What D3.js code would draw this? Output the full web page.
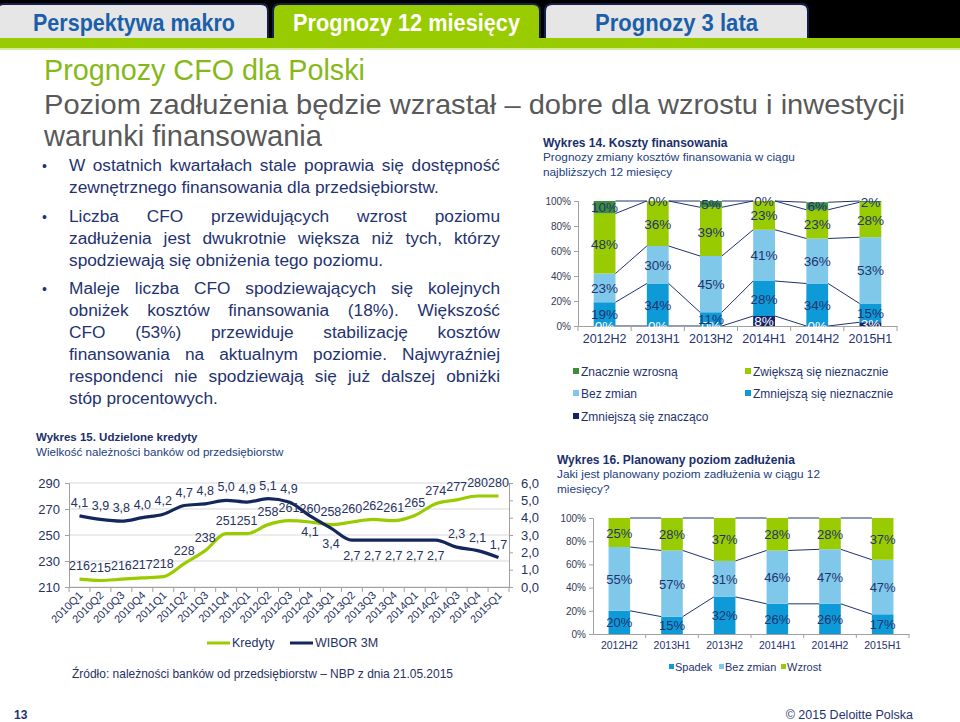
<!DOCTYPE html>
<html><head><meta charset="utf-8">
<script src="https://cdn.jsdelivr.net/npm/d3@7"></script>
<style>
body{margin:0;background:#fff;}
svg{display:block;font-family:Arial,"Liberation Sans",sans-serif;}
</style></head><body>
<svg id="s" width="960" height="722"></svg>
<script>
// ---------------- DATA ----------------
const tabLabels = ["Perspektywa makro", "Prognozy 12 miesięcy", "Prognozy 3 lata"];
const titleLines = ["Prognozy CFO dla Polski", "Poziom zadłużenia będzie wzrastał – dobre dla wzrostu i inwestycji", "warunki finansowania"];
const bulletParagraphs = [
  ["W ostatnich kwartałach stale poprawia się dostępność", "zewnętrznego finansowania dla przedsiębiorstw."],
  ["Liczba CFO przewidujących wzrost poziomu", "zadłużenia jest dwukrotnie większa niż tych, którzy", "spodziewają się obniżenia tego poziomu."],
  ["Maleje liczba CFO spodziewających się kolejnych", "obniżek kosztów finansowania (18%). Większość", "CFO (53%) przewiduje stabilizację kosztów", "finansowania na aktualnym poziomie. Najwyraźniej", "respondenci nie spodziewają się już dalszej obniżki", "stóp procentowych."]
];

// Wykres 14
const costPeriods = ["2012H2", "2013H1", "2013H2", "2014H1", "2014H2", "2015H1"];
const costSeriesNames = ["Zmniejszą się znacząco", "Zmniejszą się nieznacznie", "Bez zmian", "Zwiększą się nieznacznie", "Znacznie wzrosną"];
const costDecreaseStrong = [0, 0, 0, 8, 0, 3];
const costDecreaseSlight = [19, 34, 11, 28, 34, 15];
const costNoChange = [23, 30, 45, 41, 36, 53];
const costIncreaseSlight = [48, 36, 39, 23, 23, 28];
const costIncreaseStrong = [10, 0, 5, 0, 6, 2];
const pctTicks = [0, 20, 40, 60, 80, 100];

// Wykres 15
const quarters = ["2010Q1","2010Q2","2010Q3","2010Q4","2011Q1","2011Q2","2011Q3","2011Q4","2012Q1","2012Q2","2012Q3","2012Q4","2013Q1","2013Q2","2013Q3","2013Q4","2014Q1","2014Q2","2014Q3","2014Q4","2015Q1"];
const credits = [216, 215, 216, 217, 218, 228, 238, 251, 251, 258, 261, 260, 258, 260, 262, 261, 265, 274, 277, 280, 280];
const wibor = [4.1, 3.9, 3.8, 4.0, 4.2, 4.7, 4.8, 5.0, 4.9, 5.1, 4.9, 4.1, 3.4, 2.7, 2.7, 2.7, 2.7, 2.7, 2.3, 2.1, 1.7];
const creditTicks = [210, 230, 250, 270, 290];
const wiborTicks = [0, 1, 2, 3, 4, 5, 6];
const lineSeriesNames = ["Kredyty", "WIBOR 3M"];

// Wykres 16
const debtPeriods = ["2012H2", "2013H1", "2013H2", "2014H1", "2014H2", "2015H1"];
const debtSeriesNames = ["Spadek", "Bez zmian", "Wzrost"];
const debtDown = [20, 15, 32, 26, 26, 17];
const debtSame = [55, 57, 31, 46, 47, 47];
const debtUp = [25, 28, 37, 28, 28, 37];

// ---------------- STYLE ----------------
const NAVY = "#1f3370", NAVY2 = "#22407e", GREEN = "#99cc00", TABBLUE = "#1b5faa";
const narrow = '"Liberation Sans Narrow","Arial Narrow",Arial,sans-serif';
const svg = d3.select("#s");

// ---------------- HEADER ----------------
svg.append("rect").attr("x",0).attr("y",0).attr("width",960).attr("height",38).attr("fill","#000");
const tabBoxes = [[-3,268],[273,540],[545,808]];
const tabTextW = [202, 227, 163];
function tabPath(x0,x1,y0,y1,r){return `M${x0},${y1}L${x0},${y0+r}Q${x0},${y0} ${x0+r},${y0}L${x1-r},${y0}Q${x1},${y0} ${x1},${y0+r}L${x1},${y1}`;}
tabLabels.forEach((t,i)=>{
  const [a,b]=tabBoxes[i];
  svg.append("path").attr("d",tabPath(a,b,4,42,7)+"Z").attr("fill", i===1?GREEN:"#e6e6e6").attr("stroke","#13214a").attr("stroke-width",2);
});
svg.append("rect").attr("x",0).attr("y",38).attr("width",960).attr("height",10).attr("fill",GREEN);
svg.append("rect").attr("x",274).attr("y",30).attr("width",265).attr("height",10).attr("fill",GREEN);
svg.append("rect").attr("x",0).attr("y",48).attr("width",960).attr("height",2).attr("fill","#d4ea9a");
tabLabels.forEach((t,i)=>{
  const [a,b]=tabBoxes[i];
  svg.append("text").attr("x",(a+b)/2 + (i===0?1.5:0)).attr("y",31).attr("text-anchor","middle")
    .attr("font-family",narrow).attr("font-weight","bold").attr("font-size",24)
    .attr("textLength",tabTextW[i]).attr("lengthAdjust","spacingAndGlyphs")
    .attr("fill", i===1?"#fff":TABBLUE).text(t);
});

// ---------------- TITLES ----------------
const titleW = [321, 861, 278], titleY = [80, 114, 146], titleFS = [30, 28, 30];
titleLines.forEach((t,i)=>{
  svg.append("text").attr("x",44).attr("y",titleY[i]).attr("font-family",narrow).attr("font-size",titleFS[i])
    .attr("textLength",titleW[i]).attr("lengthAdjust","spacingAndGlyphs")
    .attr("fill", i===0?"#86b817":"#595959").text(t);
});

// ---------------- BULLETS ----------------
function justifiedLine(g, str, x, y, width, justify){
  const t = g.append("text").attr("y",y);
  if(!justify){ t.attr("x",x).text(str); return; }
  const words = str.split(" ");
  const spans = words.map(w=>t.append("tspan").text(w));
  const widths = spans.map(s=>s.node().getComputedTextLength());
  const gap = (width - d3.sum(widths))/(words.length-1);
  let cx = x;
  spans.forEach((s,k)=>{ s.attr("x",cx); cx += widths[k]+gap; });
}
const bg = svg.append("g").attr("fill",NAVY).attr("font-size",17.3);
const paraY = [171, 222, 294];
bulletParagraphs.forEach((lines,p)=>{
  bg.append("text").attr("x",42).attr("y",paraY[p]).attr("font-size",14).text("•");
  lines.forEach((ln,k)=>{
    justifiedLine(bg, ln, 69, paraY[p]+k*22, 431, k<lines.length-1);
  });
});

// ---------------- CHART 14 ----------------
(function(){
  const g = svg.append("g");
  g.append("text").attr("x",543).attr("y",147).attr("font-weight","bold").attr("font-size",12).attr("fill","#1b2f6b").text("Wykres 14. Koszty finansowania");
  g.append("text").attr("x",543).attr("y",161).attr("font-size",11.8).attr("fill",NAVY2).text("Prognozy zmiany kosztów finansowania w ciągu");
  g.append("text").attr("x",543).attr("y",176).attr("font-size",11.8).attr("fill",NAVY2).text("najbliższych 12 miesięcy");

  const keys = ["ds","dl","nc","il","is"];
  const rows = costPeriods.map((p,i)=>({p, ds:costDecreaseStrong[i], dl:costDecreaseSlight[i], nc:costNoChange[i], il:costIncreaseSlight[i], is:costIncreaseStrong[i]}));
  const stack = d3.stack().keys(keys)(rows);
  const colors = ["#13226a","#0e9ad7","#80c8e9","#99cc00","#3f8d3a"];
  const labelCol = ["#ffffff",NAVY,NAVY,NAVY,NAVY];
  const x = d3.scaleBand().domain(costPeriods).range([578,897]).paddingInner(0.59).paddingOuter(0.295);
  const y = d3.scaleLinear().domain([0,100]).range([326,201]);
  const bw = x.bandwidth();

  const ya = g.append("g").attr("transform","translate(578,0)").call(d3.axisLeft(y).tickValues(pctTicks).tickFormat(d=>d+"%").tickSize(4).tickPadding(3));
  ya.select(".domain").attr("stroke","#a0a0a0");
  ya.selectAll(".tick line").attr("stroke","#a0a0a0");
  ya.selectAll("text").attr("font-size",10).attr("fill","#333a55").attr("font-family","Arial");

  stack.forEach((s,k)=>{
    g.selectAll(null).data(s).enter().append("rect")
      .attr("x",d=>x(d.data.p)).attr("width",bw)
      .attr("y",d=>y(Math.min(d[1],100))).attr("height",d=>Math.max(0,y(d[0])-y(Math.min(d[1],100))))
      .attr("fill",colors[k]);
  });
  stack.forEach((s,k)=>{
    for(let i=0;i<s.length-1;i++){
      g.append("line").attr("x1",x(costPeriods[i])+bw).attr("x2",x(costPeriods[i+1]))
        .attr("y1",y(Math.min(s[i][1],100))).attr("y2",y(Math.min(s[i+1][1],100)))
        .attr("stroke","#1f3370").attr("stroke-width",1);
    }
  });
  const xa = g.append("g").attr("transform","translate(0,326)").call(d3.axisBottom(x).tickSize(0).tickPadding(8));
  xa.select(".domain").attr("stroke","#a0a0a0");
  xa.selectAll("text").attr("font-size",12.5).attr("fill",NAVY).attr("font-family","Arial");
  costPeriods.forEach(p=>{ g.append("line").attr("x1",x(p)+x.step()*(1-0.295)).attr("x2",x(p)+x.step()*(1-0.295)).attr("y1",326).attr("y2",331).attr("stroke","#a0a0a0"); });
  g.append("line").attr("x1",578).attr("x2",578).attr("y1",326).attr("y2",331).attr("stroke","#a0a0a0");

  stack.forEach((s,k)=>{
    g.selectAll(null).data(s).enter().append("text")
      .attr("x",d=>x(d.data.p)+bw/2).attr("y",d=>y((d[0]+Math.min(d[1],100))/2)+5)
      .attr("text-anchor","middle").attr("font-size",13.5).attr("fill",labelCol[k])
      .text(d=>(d[1]-d[0])+"%");
  });

  const legOrder = [4,3,2,1,0];
  const lp = [[573,372],[745,372],[573,394],[745,394],[573,417]];
  legOrder.forEach((k,j)=>{
    const [lx,ly]=lp[j];
    g.append("rect").attr("x",lx).attr("y",ly-4).attr("width",6).attr("height",6).attr("fill",colors[k]);
    g.append("text").attr("x",lx+8).attr("y",ly+4).attr("font-size",12).attr("fill",NAVY).text(costSeriesNames[k]);
  });
})();

// ---------------- CHART 15 ----------------
(function(){
  const g = svg.append("g");
  g.append("text").attr("x",36).attr("y",441).attr("font-weight","bold").attr("font-size",11.5).attr("fill","#1b2f6b").text("Wykres 15. Udzielone kredyty");
  g.append("text").attr("x",36).attr("y",456).attr("font-size",11.6).attr("fill",NAVY2).text("Wielkość należności banków od przedsiębiorstw");

  const x = d3.scaleBand().domain(quarters).range([69,509]);
  const yL = d3.scaleLinear().domain([210,290]).range([587,483]);
  const yR = d3.scaleLinear().domain([0,6]).range([587,483]);
  const cx = q=>x(q)+x.bandwidth()/2;

  creditTicks.forEach(t=>{ g.append("line").attr("x1",69).attr("x2",509).attr("y1",yL(t)).attr("y2",yL(t)).attr("stroke","#d9d9d9"); });
  const la = g.append("g").attr("transform","translate(69,0)").call(d3.axisLeft(yL).tickValues(creditTicks).tickSize(4).tickPadding(5));
  la.select(".domain").attr("stroke","#a0a0a0"); la.selectAll(".tick line").attr("stroke","#a0a0a0");
  la.selectAll("text").attr("font-size",13).attr("fill","#26325f").attr("font-family","Arial");
  const ra = g.append("g").attr("transform","translate(509,0)").call(d3.axisRight(yR).tickValues(wiborTicks).tickFormat(d=>d3.format(".1f")(d).replace(".",",")).tickSize(4).tickPadding(8));
  ra.select(".domain").attr("stroke","#a0a0a0"); ra.selectAll(".tick line").attr("stroke","#a0a0a0");
  ra.selectAll("text").attr("font-size",13).attr("fill","#26325f").attr("font-family","Arial");
  const xa = g.append("g").attr("transform","translate(0,587)").call(d3.axisBottom(x).tickSize(0).tickFormat(""));
  xa.select(".domain").attr("stroke","#a0a0a0");
  quarters.forEach(q=>{ g.append("line").attr("x1",x(q)).attr("x2",x(q)).attr("y1",587).attr("y2",592).attr("stroke","#a0a0a0"); });
  g.append("line").attr("x1",509).attr("x2",509).attr("y1",587).attr("y2",592).attr("stroke","#a0a0a0");
  quarters.forEach(q=>{
    g.append("text").attr("transform",`translate(${cx(q)+4},${596}) rotate(-45)`).attr("text-anchor","end")
      .attr("font-size",11).attr("fill","#26325f").text(q);
  });

  const lineC = d3.line().x((d,i)=>cx(quarters[i])).y(d=>yL(d)).curve(d3.curveMonotoneX);
  const lineW = d3.line().x((d,i)=>cx(quarters[i])).y(d=>yR(d)).curve(d3.curveMonotoneX);
  g.append("path").attr("d",lineC(credits)).attr("fill","none").attr("stroke","#99cc00").attr("stroke-width",3.2);
  g.append("path").attr("d",lineW(wibor)).attr("fill","none").attr("stroke","#13275c").attr("stroke-width",3.2);

  credits.forEach((v,i)=>{
    g.append("text").attr("x",cx(quarters[i])).attr("y",yL(v)-9).attr("text-anchor","middle").attr("font-size",12.5).attr("fill","#26325f").text(v);
  });
  wibor.forEach((v,i)=>{
    const below = i>=11 && i<=17;
    g.append("text").attr("x",cx(quarters[i])).attr("y",below? yR(v)+20 : yR(v)-9).attr("text-anchor","middle").attr("font-size",12.5).attr("fill","#26325f").text(d3.format(".1f")(v).replace(".",","));
  });

  const lc = ["#99cc00","#13275c"], lx = [207,290];
  lineSeriesNames.forEach((n,i)=>{
    g.append("line").attr("x1",lx[i]).attr("x2",lx[i]+23).attr("y1",643).attr("y2",643).attr("stroke",lc[i]).attr("stroke-width",3);
    g.append("text").attr("x",lx[i]+25).attr("y",647).attr("font-family",narrow).attr("font-size",12.5).attr("fill","#26325f").text(n);
  });
  g.append("text").attr("x",72).attr("y",678).attr("font-family",narrow).attr("font-size",13)
    .attr("textLength",381).attr("lengthAdjust","spacingAndGlyphs").attr("fill","#26325f")
    .text("Źródło: należności banków od przedsiębiorstw – NBP z dnia 21.05.2015");
})();

// ---------------- CHART 16 ----------------
(function(){
  const g = svg.append("g");
  g.append("text").attr("x",557).attr("y",464).attr("font-weight","bold").attr("font-size",12).attr("fill","#1b2f6b").text("Wykres 16. Planowany poziom zadłużenia");
  g.append("text").attr("x",557).attr("y",478).attr("font-size",11.8).attr("fill",NAVY2).text("Jaki jest planowany poziom zadłużenia w ciągu 12");
  g.append("text").attr("x",557).attr("y",493).attr("font-size",11.8).attr("fill",NAVY2).text("miesięcy?");

  const keys = ["d","s","u"];
  const rows = debtPeriods.map((p,i)=>({p, d:debtDown[i], s:debtSame[i], u:debtUp[i]}));
  const stack = d3.stack().keys(keys)(rows);
  const colors = ["#0e9ad7","#80c8e9","#99cc00"];
  const x = d3.scaleBand().domain(debtPeriods).range([593,909]).paddingInner(0.59).paddingOuter(0.295);
  const y = d3.scaleLinear().domain([0,100]).range([634,518]);
  const bw = x.bandwidth();
  const ya = g.append("g").attr("transform","translate(593,0)").call(d3.axisLeft(y).tickValues(pctTicks).tickFormat(d=>d+"%").tickSize(4).tickPadding(3));
  ya.select(".domain").attr("stroke","#a0a0a0"); ya.selectAll(".tick line").attr("stroke","#a0a0a0");
  ya.selectAll("text").attr("font-size",10).attr("fill","#333a55").attr("font-family","Arial");

  stack.forEach((s,k)=>{
    g.selectAll(null).data(s).enter().append("rect")
      .attr("x",d=>x(d.data.p)).attr("width",bw)
      .attr("y",d=>y(Math.min(d[1],100))).attr("height",d=>Math.max(0,y(d[0])-y(Math.min(d[1],100))))
      .attr("fill",colors[k]);
  });
  stack.forEach((s,k)=>{
    for(let i=0;i<s.length-1;i++){
      g.append("line").attr("x1",x(debtPeriods[i])+bw).attr("x2",x(debtPeriods[i+1]))
        .attr("y1",y(Math.min(s[i][1],100))).attr("y2",y(Math.min(s[i+1][1],100)))
        .attr("stroke","#1f3370").attr("stroke-width",1);
    }
  });
  const xa = g.append("g").attr("transform","translate(0,634)").call(d3.axisBottom(x).tickSize(0).tickPadding(8));
  xa.select(".domain").attr("stroke","#a0a0a0");
  xa.selectAll("text").attr("font-size",10.5).attr("fill",NAVY).attr("font-family","Arial");
  debtPeriods.forEach(p=>{ g.append("line").attr("x1",x(p)+x.step()*(1-0.295)).attr("x2",x(p)+x.step()*(1-0.295)).attr("y1",634).attr("y2",638).attr("stroke","#a0a0a0"); });

  stack.forEach((s,k)=>{
    g.selectAll(null).data(s).enter().append("text")
      .attr("x",d=>x(d.data.p)+bw/2).attr("y",d=>y((d[0]+Math.min(d[1],100))/2)+5)
      .attr("text-anchor","middle").attr("font-size",13).attr("fill",NAVY)
      .text(d=>(d[1]-d[0])+"%");
  });
  const lx = [669,719,781];
  debtSeriesNames.forEach((n,i)=>{
    g.append("rect").attr("x",lx[i]).attr("y",664).attr("width",5).attr("height",5).attr("fill",colors[i]);
    g.append("text").attr("x",lx[i]+6).attr("y",671).attr("font-family",narrow).attr("font-size",11).attr("fill",NAVY).text(n);
  });
})();

// ---------------- FOOTER ----------------
svg.append("text").attr("x",14).attr("y",719).attr("font-family",narrow).attr("font-weight","bold").attr("font-size",12).attr("fill",NAVY).text("13");
svg.append("text").attr("x",913).attr("y",719).attr("text-anchor","end").attr("font-family",narrow).attr("font-size",12.5).attr("fill",NAVY).text("© 2015 Deloitte Polska");
</script></body></html>
